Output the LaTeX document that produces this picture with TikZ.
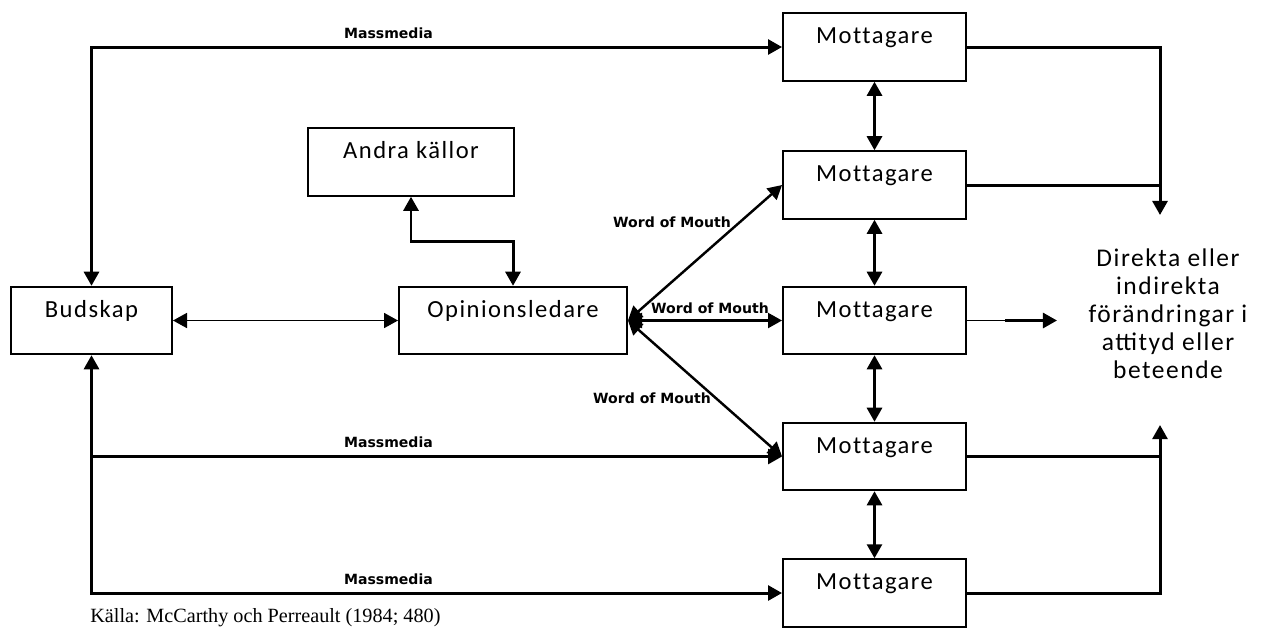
\documentclass[tikz,border=0pt]{standalone}
\usepackage{fontspec}
\setmainfont{Carlito}
\newfontfamily\boxfont[LetterSpace=6,Ligatures=NoCommon]{Carlito}
\newfontfamily\effektfont[LetterSpace=6]{Carlito}
\newfontfamily\lblfont{DejaVu Sans}
\newfontfamily\srcfont{Liberation Serif}
\usetikzlibrary{arrows.meta}

\begin{document}
\begin{tikzpicture}[x=0.02cm,y=-0.02cm,>={Triangle[length=8pt,width=8.5pt]},
        box/.style={draw,line width=1.1pt,minimum height=1.35cm,text height=0.3cm,text depth=0.44cm,font=\boxfont\fontsize{14}{16}\selectfont},
        mbox/.style={box,minimum width=3.66cm},
        lbl/.style={font=\lblfont\bfseries\fontsize{8}{9}\selectfont,inner sep=1pt},
        conn/.style={line width=1.7pt}]
        \useasboundingbox (0,0) rectangle (1264,627);
        \node[box,minimum width=3.22cm] (budskap) at (91.5,320.5) {Budskap};
        \node[box,minimum width=4.56cm] (opinion) at (513,320.5) {Opinionsledare};
        \node[box,minimum width=4.12cm] (andra) at (411,162) {Andra källor};
        \node[mbox] (m1) at (874.5,47) {Mottagare};
        \node[mbox] (m2) at (874.5,185) {Mottagare};
        \node[mbox] (m3) at (874.5,320.5) {Mottagare};
        \node[mbox] (m4) at (874.5,456.5) {Mottagare};
        \node[mbox] (m5) at (874.5,593) {Mottagare};
        \node[font=\effektfont\fontsize{14.5}{16}\selectfont,align=center] (effekt) at (1168,314) {Direkta eller\\indirekta\\förändringar i\\attityd eller\\beteende};
        \coordinate (utop) at (1160,215);
        \coordinate (ubot) at (1160,425);
        \coordinate (ut3a) at (1005,320.5);
        \coordinate (ut3) at (1057,320.5);
        \draw[conn,<->] (budskap.north) |- (m1.west) node[lbl,pos=0.715,above=3pt] (mm1) {Massmedia};
        \draw[conn,->] (budskap.south |- m4.west) -- (m4.west) node[lbl,pos=0.43,above=3pt] (mm2) {Massmedia};
        \draw[conn,<->] (budskap.south) |- (m5.west) node[lbl,pos=0.715,above=3pt] (mm3) {Massmedia};
        \draw[line width=1.1pt,<->] (budskap.east) -- (opinion.west);
        \draw[conn,<->] (opinion.north) |- ([yshift=-0.9cm]andra.south) -| (andra.south);
        \draw[line width=1.4pt,<->] (opinion.east) -- (m2.west);
        \draw[line width=1.4pt,<->] (opinion.east) -- (m3.west);
        \draw[line width=1.4pt,<->] (opinion.east) -- (m4.west);
        \node[lbl] (wom1) at (672,222) {Word of Mouth};
        \node[lbl] (wom2) at (710,308) {Word of Mouth};
        \node[lbl] (wom3) at (652,398) {Word of Mouth};
        \draw[conn,<->] (m1.south) -- (m2.north);
        \draw[conn,<->] (m2.south) -- (m3.north);
        \draw[conn,<->] (m3.south) -- (m4.north);
        \draw[conn,<->] (m4.south) -- (m5.north);
        \draw[conn,->] (m1.east) -| (utop);
        \draw[conn] (m2.east) -- (m2.east -| utop);
        \draw[line width=1pt] (m3.east) -- (ut3a);
        \draw[conn,->] (ut3a) -- (ut3);
        \draw[conn,->] (m5.east) -| (ubot);
        \draw[conn] (m4.east) -- (m4.east -| ubot);
        \node[font=\srcfont\fontsize{11.5}{13}\selectfont,anchor=base west,inner sep=0pt] (kalla) at (90,622) {Källa: McCarthy och Perreault (1984; 480)};
\end{tikzpicture}
\end{document}
